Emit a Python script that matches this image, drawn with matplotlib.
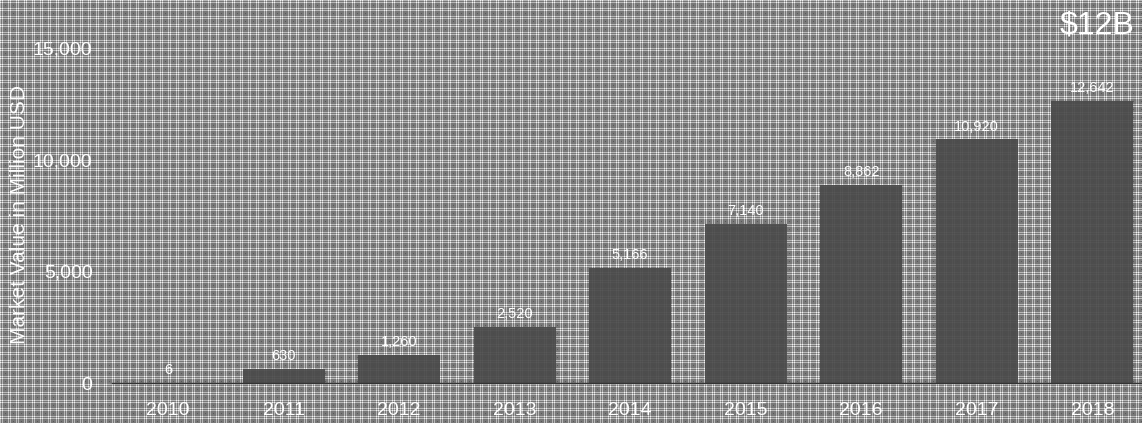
import matplotlib
matplotlib.use('Agg')
import matplotlib.pyplot as plt
import numpy as np

years = ['2010', '2011', '2012', '2013', '2014', '2015', '2016', '2017', '2018']
values = [6, 630, 1260, 2520, 5166, 7140, 8862, 10920, 12642]
yticks = [0, 5000, 10000, 15000]
badge = '$12B'

plt.rcParams['font.family'] = ['Liberation Sans', 'DejaVu Sans']

W, H = 1142, 423
fig = plt.figure(figsize=(W / 100, H / 100), dpi=100)

# plaid-like background texture
yy, xx = np.mgrid[0:H, 0:W]
tex = np.full((H, W), 0.47)
ry = (yy % 8 == 0) | (yy % 8 == 2)
rx = (xx % 8 == 0) | (xx % 8 == 2)
tex[ry] = 0.72
tex[rx] = 0.72
tex[ry & rx] = 0.95
tex[(yy % 8 == 5) & (xx % 8 == 5)] = 0.35
fig.figimage(tex, cmap='gray', vmin=0, vmax=1, zorder=0)

ax = fig.add_axes([112 / W, (H - 383) / H, (W - 112) / W, (383 - 40) / H])
ax.set_zorder(2)
ax.set_facecolor('none')
x = np.arange(len(years))
ax.bar(x, values, width=0.71, color='#4a4a4a', alpha=0.92, zorder=2)
for xi, v in zip(x, values):
    ax.text(xi, v + 250, f'{v:,}', ha='center', va='bottom',
            color='white', fontsize=10.5, zorder=3)

ax.set_xlim(-0.485, 8.43)
ax.set_ylim(0, 15000 * 343 / (383 - 48))
ax.set_xticks(x)
ax.set_xticklabels(years, color='white', fontsize=14)
ax.set_yticks(yticks)
ax.set_yticklabels([f'{t:,}' for t in yticks], color='white', fontsize=14)
ax.tick_params(axis='x', length=0, pad=14)
ax.tick_params(axis='y', length=0, pad=14)
for s in ['top', 'right', 'left']:
    ax.spines[s].set_visible(False)
ax.spines['bottom'].set_color('#333333')
ax.spines['bottom'].set_linewidth(1)

fig.text(20 / W, 1 - 215 / H, 'Market Value in Million USD', rotation=90,
         ha='center', va='center', color='white', fontsize=15, zorder=3)
fig.text(1134 / W, 1 - 25 / H, badge, ha='right', va='center',
         color='white', fontsize=23, zorder=3)

fig.savefig('out.png', dpi=100)
